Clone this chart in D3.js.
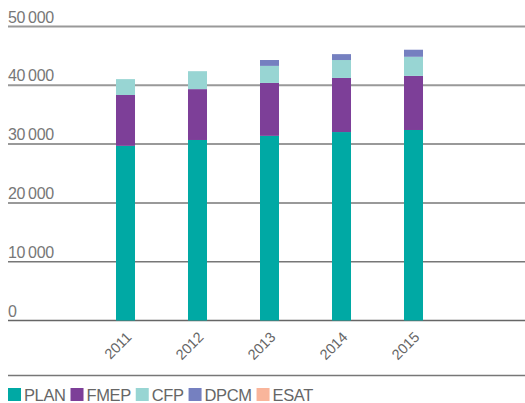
<!DOCTYPE html>
<html>
<head>
<meta charset="utf-8">
<script src="https://cdn.jsdelivr.net/npm/d3@7"></script>
<style>
  html, body { margin: 0; padding: 0; background: #fff; }
  svg { display: block; font-family: "Liberation Sans", Arial, sans-serif; }
</style>
</head>
<body>
<svg id="chart" width="525" height="403"></svg>
<script>
const years = ["2011", "2012", "2013", "2014", "2015"];
const seriesNames = ["PLAN", "FMEP", "CFP", "DPCM", "ESAT"];
const PLAN = [29700, 30700, 31400, 32050, 32400];
const FMEP = [8650, 8650, 9000, 9200, 9200];
const CFP  = [2700, 3050, 2900, 3050, 3250];
const DPCM = [0, 0, 1000, 1000, 1200];
const ESAT = [0, 0, 0, 0, 0];
const yTicks = [0, 10000, 20000, 30000, 40000, 50000];
const colors = ["#00a9a4", "#7d3f98", "#98d5d3", "#7580c0", "#f9b59b"];

const svg = d3.select("#chart");
const W = 525, H = 403;

const rows = years.map((yr, i) => ({
  year: yr, PLAN: PLAN[i], FMEP: FMEP[i], CFP: CFP[i], DPCM: DPCM[i], ESAT: ESAT[i]
}));

const slots = ["_a", ...years, "_b"];
const x = d3.scaleBand().domain(slots).range([17.5, 521.5])
  .paddingInner(0.736).paddingOuter(0.368);
const y = d3.scaleLinear().domain([0, 50000]).range([320.5, 26.5]);

const fmt = v => v === 0 ? "0" : d3.format(",")(v).replace(",", "\u2009");

// gridlines
const grid = svg.append("g");
grid.selectAll("line").data(yTicks).join("line")
  .attr("x1", 8).attr("x2", W)
  .attr("y1", d => y(d)).attr("y2", d => y(d))
  .attr("stroke", d => d === 0 ? "#666" : (d >= 40000 ? "#999" : "#777"))
  .attr("stroke-width", d => d >= 40000 ? 2 : 1.5);
grid.selectAll("text").data(yTicks).join("text")
  .attr("x", 8).attr("y", d => y(d) - 4)
  .attr("font-size", 16).attr("fill", "#777")
  .attr("letter-spacing", "-0.3")
  .text(fmt);

// stacked bars
const stack = d3.stack().keys(seriesNames);
const layers = stack(rows);
svg.append("g").selectAll("g").data(layers).join("g")
  .attr("fill", (d, i) => colors[i])
  .selectAll("rect").data(d => d).join("rect")
  .attr("x", d => x(d.data.year))
  .attr("width", x.bandwidth())
  .attr("y", d => y(d[1]))
  .attr("height", d => Math.max(0, y(d[0]) - y(d[1])));

// x labels
svg.append("g").selectAll("text").data(years).join("text")
  .attr("transform", d => `translate(${x(d) + x.bandwidth() / 2 + 7},${338}) rotate(-45)`)
  .attr("text-anchor", "end")
  .attr("font-size", 14.5).attr("fill", "#666")
  .text(d => d);

// bottom separator
svg.append("line").attr("x1", 8).attr("x2", W).attr("y1", 375.5).attr("y2", 375.5)
  .attr("stroke", "#777").attr("stroke-width", 1.5);

// legend
const legend = svg.append("g").attr("transform", "translate(8,388)");
let lx = 0;
seriesNames.forEach((name, i) => {
  const g = legend.append("g").attr("transform", `translate(${lx},0)`);
  g.append("rect").attr("width", 13).attr("height", 13).attr("fill", colors[i]);
  const t = g.append("text").attr("x", 16).attr("y", 12.5)
    .attr("font-size", 16.5).attr("fill", "#666").attr("letter-spacing", "-0.4").text(name);
  lx += 16 + t.node().getComputedTextLength() + 5;
});
</script>
</body>
</html>
